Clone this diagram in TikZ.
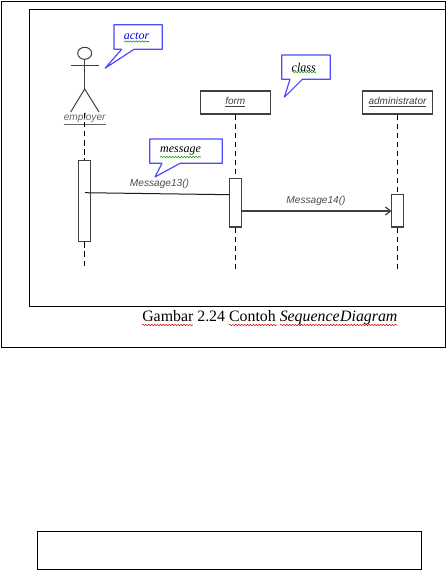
\documentclass[tikz,border=0pt]{standalone}
\usepackage{fontspec}
\setmainfont{Liberation Serif}
\setsansfont{Liberation Sans}
\usetikzlibrary{arrows.meta,decorations.pathmorphing}

\tikzset{
    frameline/.style={draw=black, line width=0.75pt},
    lifebox/.style={draw=black!75, line width=0.9pt, fill=white, inner sep=0pt, minimum width=52.5pt, minimum height=17.25pt, font=\sffamily\itshape\fontsize{7.5}{9}\selectfont, text=black!75},
    actbox/.style={draw=black!75, line width=0.9pt, fill=white, inner sep=0pt, minimum width=9pt},
    lifeline/.style={black, line width=0.6pt, dash pattern=on 4pt off 2.8pt},
    msglabel/.style={font=\sffamily\itshape\fontsize{7.6}{9}\selectfont, text=black!70, inner sep=0pt},
    notebox/.style={draw=blue!70!white, line width=0.9pt, line join=bevel, fill=white},
    notetext/.style={font=\itshape\fontsize{9}{11}\selectfont, inner sep=0pt},
    squiggle/.style={line width=0.4pt, decorate, decoration={snake, amplitude=0.5pt, segment length=2.2pt}},
    stickman/.style={draw=black!75, line width=0.75pt}
}

\begin{document}
\begin{tikzpicture}[x=0.75pt, y=-0.75pt]
    \useasboundingbox (0,0) rectangle (447,571);

    % Bingkai luar dan dalam
    \draw[frameline] (1.5,1) rectangle (445.5,347);
    \draw[frameline] (445.5,9.3) -- (29.5,9.3) -- (29.5,306) -- (445.5,306);
    \node[frameline, inner sep=0pt, minimum width=288pt, minimum height=28.5pt] (emptybox) at (229.5,550.3) {};

    % Actor
    \draw[stickman] (84.7,53.3) ellipse (7 and 6);
    \draw[stickman] (70.7,65) -- (99,65);
    \draw[stickman] (84.7,59.3) -- (84.7,89);
    \draw[stickman] (70.7,112) -- (84.7,89) -- (99,112);
    \coordinate (startemployer) at (84.7,113);
    \node[msglabel, text=black!60] (employer) at (84.7,119) {\underline{employer}};

    % Kotak objek
    \node[lifebox] (form) at (235.3,102.5) {\underline{form}};
    \node[lifebox] (administrator) at (397.5,102.5) {\underline{administrator}};

    % Kotak aktivasi
    \node[actbox, minimum height=60.9pt] (actemployer) at (84.7,201.2) {};
    \node[actbox, minimum height=36.5pt] (actform) at (235.3,202.6) {};
    \node[actbox, minimum height=24.5pt] (actadmin) at (397.5,210.6) {};

    % Ujung bawah garis hidup
    \coordinate (endemployer) at (84.7,269);
    \coordinate (endform) at (235.3,269);
    \coordinate (endadmin) at (397.5,269);

    % Garis hidup
    \draw[lifeline] (startemployer) -- (actemployer.north);
    \draw[lifeline] (form.south) -- (actform.north);
    \draw[lifeline] (administrator.south) -- (actadmin.north);
    \foreach \act/\tail in {actemployer/endemployer,actform/endform,actadmin/endadmin} {
        \draw[lifeline] (\act.south) -- (\tail);
    }

    % Pesan
    \coordinate (msgstart) at (85,192.7);
    \coordinate (msgstop) at (229.3,194.7);
    \coordinate (msgnext) at (241.3,211);
    \coordinate (msgtarget) at (391.7,211);
    \draw[black!90, line width=0.75pt] (msgstart) -- (msgstop);
    \draw[black!75, line width=0.9pt, -{Straight Barb[length=4pt,width=6pt]}] (msgnext) -- (msgtarget);
    \node[msglabel] (msgone) at (159.5,183.7) {Message13()};
    \node[msglabel] (msgtwo) at (316,200.7) {Message14()};

    % Balon keterangan
    \draw[notebox] (114,24.7) -- (162.3,24.7) -- (162.3,49.3) -- (134,49.3) -- (105,68.3) -- (121.7,49.3) -- (114,49.3) -- cycle;
    \draw[notebox] (281.7,55) -- (330.3,55) -- (330.3,79.3) -- (302.3,79.3) -- (284.3,97.3) -- (290,79.3) -- (281.7,79.3) -- cycle;
    \draw[notebox] (149.7,139) -- (222.3,139) -- (222.3,163.3) -- (180,163.3) -- (155,177) -- (162,163.3) -- (149.7,163.3) -- cycle;
    \node[notetext, text=blue!90!black] (actor) at (136.5,36) {actor};
    \node[notetext] (class) at (303.7,67) {class};
    \node[notetext] (message) at (180.5,151) {message};

    % Garis bawah ejaan (hijau)
    \foreach \xa/\xb/\ya in {124/149/41.5,292/316/72,160/201/157} {
        \draw[squiggle, green!60!black] (\xa,\ya) -- (\xb,\ya);
    }

    % Keterangan gambar
    \node[anchor=base west, inner sep=0pt, font=\fontsize{11.9}{14}\selectfont] (caption) at (142,321.7) {Gambar 2.24 Contoh \textit{Sequence\hspace{0.03em}Diagram}};

    % Garis bawah ejaan (merah)
    \foreach \xa/\xb in {142/193,229/277,280/397} {
        \draw[squiggle, red!85!black] (\xa,325) -- (\xb,325);
    }
\end{tikzpicture}
\end{document}
